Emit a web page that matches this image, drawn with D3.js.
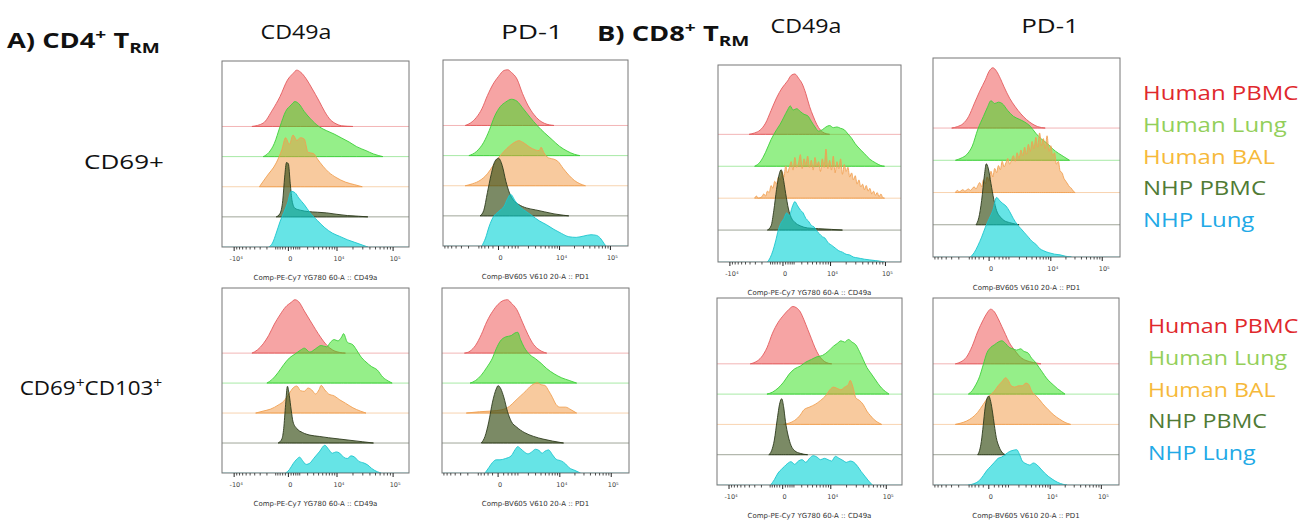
<!DOCTYPE html>
<html>
<head>
<meta charset="utf-8">
<script src="https://cdn.jsdelivr.net/npm/d3@7"></script>
<style>
  body { margin: 0; background: #fff; }
  svg { display: block; }
</style>
</head>
<body>
<script>
const W = 1303, H = 531;

// stacked rows, top to bottom
const populations = ["Human PBMC", "Human Lung", "Human BAL", "NHP PBMC", "NHP Lung"];

// histograms: [channel along the axis (0-100), % of mode]
const cd4Cd69Cd49a = [
  [[16,0],[22,5],[27,25],[31,45],[35,70],[38,80],[40,85],[42,82],[45,72],[48,58],[52,38],[55,22],[58,10],[61,4],[64,1],[70,0]],
  [[22,0],[25,6],[28,20],[31,45],[34,68],[37,78],[39,83],[41,80],[44,68],[47,58],[52,45],[56,39],[60,34],[64,28],[68,22],[72,15],[77,9],[81,4],[86,0]],
  [[20,0],[24,16],[29,36],[32,56],[34,74],[36,64],[38,78],[40,70],[42,74],[44,72],[46,52],[49,50],[51,42],[54,31],[57,22],[61,14],[66,7],[71,3],[75,0]],
  [[29,0],[31,5],[32.5,25],[33.5,60],[34.5,82],[35.5,80],[36.5,50],[37.5,24],[39,13],[42,10],[46,8],[51,7],[56,6],[61,4],[67,2],[73,1],[78,0]],
  [[25,0],[27,6],[29,21],[31,38],[33,52],[35,66],[37,84],[39,82],[41,74],[44,64],[47,52],[51,40],[55,29],[59,21],[63,16],[67,11],[71,7],[75,3],[78,0]]
];
const cd4Cd69Pd1 = [
  [[12,0],[15,4],[18,12],[21,25],[24,45],[27,62],[30,74],[33,83],[35,84],[37,80],[40,70],[43,48],[46,30],[49,17],[52,8],[55,3],[60,0]],
  [[14,0],[18,6],[22,20],[25,38],[28,60],[31,74],[34,81],[37,85],[40,82],[43,72],[47,58],[51,45],[55,34],[59,24],[63,14],[67,7],[71,2],[74,0]],
  [[12,0],[16,3],[20,8],[24,18],[27,30],[30,42],[33,52],[36,60],[39,66],[41,68],[44,64],[47,58],[50,54],[52,53],[53,58],[54.5,50],[57,42],[60,40],[62,37],[65,26],[68,16],[71,8],[74,3],[77,0]],
  [[20,0],[22,8],[24,35],[26,62],[28,82],[30,87],[32,76],[34,52],[36,34],[38,24],[41,17],[45,12],[50,9],[55,6],[60,3],[65,1],[68,0]],
  [[21,0],[23,12],[25,30],[27,43],[30,52],[33,60],[35,72],[36.5,78],[39,68],[42,58],[45,52],[48,46],[52,38],[56,32],[60,25],[64,19],[68,14],[72,13],[76,15],[80,17],[83,16],[85,12],[87,4],[88,0]]
];
const cd4Cd103Cd49a = [
  [[16,0],[19,5],[22,14],[25,27],[28,44],[31,58],[34,70],[37,77],[39,81],[41,78],[44,64],[47,50],[50,36],[53,23],[56,12],[59,5],[63,1],[66,0]],
  [[24,0],[27,6],[30,16],[33,28],[36,38],[39,44],[42,50],[44,53],[47,47],[50,52],[53,57],[56,55],[58,62],[60,66],[62,64],[64,70],[65,75],[67,62],[70,58],[72,50],[74,41],[77,32],[80,25],[83,20],[86,9],[89,3],[91,0]],
  [[18,0],[22,3],[26,6],[30,12],[33,18],[36,30],[38,38],[40,41],[42,34],[44,33],[46,38],[48,35],[50,29],[52,36],[53,42],[55,35],[57,29],[60,26],[63,20],[66,15],[70,8],[74,3],[77,0]],
  [[30,0],[32,6],[33,22],[34,58],[35,86],[36,72],[37,50],[38,32],[40,22],[43,16],[47,12],[52,10],[57,8],[63,6],[69,4],[75,2],[81,0]],
  [[34,0],[36,5],[38,14],[40,21],[41.5,24],[43,19],[45,13],[47,15],[49,22],[52,32],[55,42],[57,36],[59,30],[61,32],[63,30],[65,24],[67,22],[69,26],[71,24],[73,18],[76,15],[78,12],[80,7],[83,2],[85,0]]
];
const cd4Cd103Pd1 = [
  [[12,0],[15,3],[18,12],[21,28],[24,48],[27,63],[30,74],[33,80],[35,81],[37,76],[40,66],[43,47],[46,28],[49,13],[52,5],[56,0]],
  [[15,0],[18,4],[21,12],[24,24],[27,38],[29,52],[31,63],[34,70],[37,72],[39,76],[40.5,77],[42,66],[44,54],[47,43],[50,37],[53,30],[56,22],[60,14],[64,8],[68,4],[72,0]],
  [[13,0],[20,2],[26,3],[32,5],[36,10],[39,18],[42,26],[45,34],[47,40],[49,44],[51,46],[53,43],[55,42],[57,34],[59,24],[61,13],[63,9],[66,9],[69,5],[72,0]],
  [[21,0],[23,10],[25,32],[27,62],[29,82],[30,87],[31.5,82],[33,70],[35,48],[37,33],[40,24],[44,16],[49,10],[54,6],[59,3],[65,0]],
  [[23,0],[25,8],[27,16],[29,20],[31,20],[34,22],[37,26],[39,35],[40.5,40],[42,37],[44,32],[46,29],[48,32],[50,36],[52,34],[53.5,30],[55,33],[57,35],[59,28],[61,21],[64,18],[66,14],[68,8],[71,4],[74,0]]
];
const cd8Cd69Cd49a = [
  [[17,0],[20,2],[23,6],[26,16],[29,34],[32,52],[35,66],[38,76],[40,84],[42,86],[44,80],[46,72],[48,58],[50,40],[52,26],[54,14],[56,6],[58,2],[61,0]],
  [[20,0],[23,6],[26,20],[29,38],[32,52],[34,60],[36,70],[38,80],[39.5,86],[41,80],[43,82],[45,78],[47,74],[49,72],[51,64],[53,56],[55,50],[57,52],[59,56],[61,58],[63,55],[65,56],[67,54],[69,52],[71,46],[73,40],[75,32],[77,26],[80,18],[83,10],[86,5],[89,1],[91,0]],
  [[20,0],[21,3],[22,0],[24,2],[25,6],[26,3],[27,10],[28,8],[29,18],[30,14],[31,24],[32,20],[33,30],[34,26],[35,38],[36,30],[37,46],[38,36],[39,44],[40,52],[41,40],[42,58],[43,44],[44,50],[45,62],[46,42],[47,56],[48,48],[49,60],[50,44],[51,54],[52,40],[53,58],[54,46],[55,52],[56,38],[57,56],[58,44],[59,70],[60,42],[61,54],[62,40],[63,60],[64,36],[65,52],[66,42],[67,56],[68,34],[69,48],[70,38],[71,44],[72,30],[73,36],[74,26],[75,32],[76,20],[77,26],[78,16],[79,20],[80,12],[81,18],[82,10],[83,14],[84,6],[85,10],[86,4],[87,8],[88,2],[89,6],[90,1],[91,0]],
  [[27,0],[29,6],[30.5,28],[32,58],[33.5,80],[34.5,86],[35.5,76],[37,52],[38.5,30],[40,18],[42,11],[45,6],[49,3],[55,2],[62,1],[68,0]],
  [[27,0],[28.5,6],[30,16],[31.5,30],[33,46],[34.5,56],[36,62],[37.5,70],[39,66],[40.5,78],[42,86],[43.5,80],[45,74],[46.5,70],[48,62],[49.5,58],[51,52],[52.5,50],[54,44],[55.5,40],[57,36],[58.5,34],[60,28],[62,24],[64,20],[66,16],[68,14],[70,11],[72,10],[74,7],[76,6],[78,5],[80,4],[83,3],[86,2],[89,1],[91,0]]
];
const cd8Cd69Pd1 = [
  [[10,0],[13,2],[16,6],[19,16],[22,34],[25,52],[28,68],[30,80],[32,85],[34,80],[36,70],[38,58],[41,42],[44,30],[47,20],[50,12],[53,6],[56,2],[60,0]],
  [[12,0],[15,3],[18,8],[21,20],[24,44],[27,62],[29,74],[31,84],[33,80],[35,82],[37,80],[40,70],[43,62],[46,58],[49,54],[52,48],[55,38],[58,30],[61,24],[64,16],[67,10],[70,5],[73,0]],
  [[12,0],[13,3],[14,1],[16,4],[17,2],[19,5],[20,3],[22,8],[23,5],[24,10],[25,14],[26,8],[27,18],[28,12],[29,22],[30,16],[31,30],[32,22],[33,34],[34,28],[35,38],[36,32],[37,44],[38,36],[39,42],[40,48],[41,40],[42,46],[43,52],[44,44],[45,56],[46,48],[47,60],[48,52],[49,64],[50,54],[51,68],[52,58],[53,72],[54,62],[55,78],[56,64],[57,84],[58,66],[59,76],[60,62],[61,80],[62,58],[63,66],[64,52],[65,56],[66,40],[67,44],[68,30],[69,28],[70,20],[71,16],[72,12],[73,8],[74,6],[75,2],[76,0]],
  [[23,0],[24.5,10],[26,34],[27.5,70],[28.5,86],[29.5,80],[31,58],[32.5,36],[34,20],[36,11],[38,6],[41,3],[44,1],[46,0]],
  [[20,0],[22,6],[24,16],[26,28],[28,42],[30,54],[32,66],[34,84],[35.5,80],[37,76],[39,72],[41,64],[43,54],[45,46],[47,40],[49,34],[51,28],[53,22],[55,18],[57,12],[59,9],[62,6],[65,4],[68,3],[71,1],[74,0]]
];
const cd8Cd103Cd49a = [
  [[18,0],[21,3],[24,10],[27,24],[30,46],[33,62],[36,73],[39,82],[41,86],[43,84],[45,78],[47,66],[49,52],[51,38],[53,24],[55,13],[57,6],[59,2],[62,0]],
  [[27,0],[30,3],[33,9],[36,18],[39,30],[42,38],[45,42],[48,48],[51,52],[54,56],[57,58],[60,64],[63,72],[65,76],[67,80],[69,78],[71,82],[73,78],[75,74],[77,64],[79,52],[81,40],[83,32],[85,24],[87,16],[89,9],[91,4],[93,0]],
  [[36,0],[39,2],[42,6],[45,14],[47,22],[50,26],[53,30],[56,36],[59,44],[61,52],[63,56],[65,54],[67,52],[69,56],[71,60],[72,66],[73.5,56],[75,40],[77,36],[79,30],[81,20],[83,13],[85,7],[87,3],[89,0]],
  [[28,0],[29.5,6],[31,22],[32.5,52],[34,78],[35,84],[36,72],[37,50],[38.5,28],[40,14],[42,6],[45,2],[49,0]],
  [[29,0],[31,8],[33,18],[35,24],[36.5,28],[38,32],[40,35],[42,31],[44,36],[46,38],[48,34],[50,40],[52,44],[54,42],[56,38],[58,40],[60,38],[62,36],[64,43],[66,40],[68,37],[70,34],[72,36],[74,34],[76,28],[78,20],[80,13],[82,6],[84,0]]
];
const cd8Cd103Pd1 = [
  [[12,0],[15,3],[18,10],[21,26],[24,48],[27,66],[29,76],[31,82],[33,78],[35,68],[37,56],[39,44],[41,32],[44,20],[47,10],[50,5],[54,2],[58,0]],
  [[19,0],[21,5],[23,14],[25,26],[27,44],[29,62],[31,70],[33,74],[35,78],[37,80],[39,76],[41,70],[43,68],[45,66],[47,68],[49,64],[51,62],[53,54],[55,48],[57,40],[59,32],[61,24],[63,18],[65,13],[67,8],[69,4],[71,0]],
  [[12,0],[15,2],[18,5],[21,10],[24,18],[27,30],[30,42],[33,50],[35,58],[37,64],[39,70],[40.5,66],[42,58],[44,56],[46,58],[48,58],[50,62],[51.5,60],[53,50],[55,44],[57,38],[59,31],[62,22],[65,14],[68,8],[71,3],[74,0]],
  [[24,0],[25,6],[26,20],[27,44],[28,70],[29,84],[30,88],[31,80],[32,64],[33,44],[34,26],[35.5,12],[37,4],[39,0]],
  [[19,0],[22,2],[25,7],[27,14],[29,22],[31,28],[33,34],[35,40],[37,42],[39,46],[41,50],[43,52],[45,53],[46.5,46],[48,36],[50,32],[52,30],[54,33],[56,30],[58,24],[60,18],[62,13],[64,9],[67,4],[70,1],[72,0]]
];

// axis ticks (fluorescence values) and their labels
const cd49aTicks = [-1e4, 0, 1e4, 1e5];
const cd49aTickLabels = ["-10⁴", "0", "10⁴", "10⁵"];
const pd1Ticks = [0, 1e4, 1e5];
const pd1TickLabels = ["0", "10⁴", "10⁵"];
const minorTicks = [-9000,-8000,-7000,-6000,-5000,-4000,-3000,-2000,-1000,-800,-600,-400,-200,
  200,400,600,800,1000,2000,3000,4000,5000,6000,7000,8000,9000,
  20000,30000,40000,50000,60000,70000,80000,90000];

// channel positions of -1e4, 0 and 1e5 and the width constant of each marker's axis
const axes = {
  cd49a: { neg: 6.5, zero: 35.5, top: 91.5, k: 1830, ticks: cd49aTicks, labels: cd49aTickLabels,
           title: "Comp-PE-Cy7 YG780  60-A :: CD49a" },
  pd1:   { neg: null, zero: 30, top: 90.5, k: 730, ticks: pd1Ticks, labels: pd1TickLabels,
           title: "Comp-BV605  V610  20-A :: PD1" }
};

const fills = ["rgba(238,74,74,0.5)", "rgba(52,224,28,0.52)", "rgba(242,150,62,0.5)", "rgba(55,78,22,0.66)", "rgba(0,210,214,0.6)"];
const strokes = ["#e35b5e", "#3dcf3a", "#f0a052", "#2c3a1c", "#1cc5cd"];
const legendColors = ["#e0282c", "#93cf5a", "#f6b93a", "#507b35", "#21a9e6"];

const panels = [
  { data: cd4Cd69Cd49a,  axis: "cd49a", x: 222, y: 61,  w: 187, h: 186 },
  { data: cd4Cd69Pd1,    axis: "pd1",   x: 443, y: 60,  w: 185, h: 186 },
  { data: cd4Cd103Cd49a, axis: "cd49a", x: 222, y: 288, w: 187, h: 185 },
  { data: cd4Cd103Pd1,   axis: "pd1",   x: 442, y: 288, w: 187, h: 185 },
  { data: cd8Cd69Cd49a,  axis: "cd49a", x: 718, y: 65,  w: 183, h: 197 },
  { data: cd8Cd69Pd1,    axis: "pd1",   x: 933, y: 58,  w: 187, h: 199 },
  { data: cd8Cd103Cd49a, axis: "cd49a", x: 717, y: 298, w: 185, h: 187 },
  { data: cd8Cd103Pd1,   axis: "pd1",   x: 933, y: 298, w: 186, h: 187 }
];

const svg = d3.select("body").append("svg").attr("width", W).attr("height", H);
const font = "'Open Sans', 'Noto Sans', sans-serif";
const axisFont = "'DejaVu Sans', sans-serif";

panels.forEach((p, pi) => {
  const ax = axes[p.axis];
  const g = svg.append("g");
  const x = d3.scaleLinear().domain([0, 100]).range([p.x, p.x + p.w]);
  const xPos = d3.scaleSymlog().constant(ax.k).domain([0, 1e5]).range([x(ax.zero), x(ax.top)]);
  const xNeg = ax.neg == null ? xPos
    : d3.scaleSymlog().constant(ax.k).domain([0, -1e4]).range([x(ax.zero), x(ax.neg)]);
  const xv = v => (v < 0 ? xNeg(v) : xPos(v));
  const step = p.h * 0.162;
  const hy = d3.scaleLinear().domain([0, 100]).range([0, step * 2.2]);

  g.append("clipPath").attr("id", "clip" + pi)
    .append("rect").attr("x", p.x).attr("y", p.y).attr("width", p.w).attr("height", p.h);
  const plot = g.append("g").attr("clip-path", `url(#clip${pi})`);

  p.data.forEach((series, i) => {
    const base = p.y + p.h - (4 - i) * step;
    plot.append("line")
      .attr("x1", p.x).attr("x2", p.x + p.w).attr("y1", base).attr("y2", base)
      .attr("stroke", strokes[i]).attr("stroke-opacity", 0.45).attr("stroke-width", 1);
    const area = d3.area()
      .x(d => x(d[0]))
      .y0(base)
      .y1(d => base - hy(d[1]))
      .curve(d3.curveMonotoneX);
    plot.append("path").datum(series)
      .attr("d", area)
      .attr("fill", fills[i])
      .attr("stroke", strokes[i])
      .attr("stroke-width", 0.9);
  });

  g.append("rect").attr("x", p.x).attr("y", p.y).attr("width", p.w).attr("height", p.h)
    .attr("fill", "none").attr("stroke", "#777").attr("stroke-width", 1);

  const bottom = p.y + p.h;
  const inside = v => xv(v) >= p.x && xv(v) <= p.x + p.w;
  g.selectAll(null).data(minorTicks.filter(inside)).enter().append("line")
    .attr("x1", d => xv(d)).attr("x2", d => xv(d))
    .attr("y1", bottom).attr("y2", bottom + 2.5)
    .attr("stroke", "#222").attr("stroke-width", 0.8);
  g.selectAll(null).data(ax.ticks).enter().append("line")
    .attr("x1", d => xv(d)).attr("x2", d => xv(d))
    .attr("y1", bottom).attr("y2", bottom + 4)
    .attr("stroke", "#222").attr("stroke-width", 1);
  g.selectAll(null).data(ax.ticks).enter().append("text")
    .attr("x", d => xv(d) + 2).attr("y", bottom + 14)
    .attr("text-anchor", "middle")
    .attr("font-family", axisFont).attr("font-size", 6.5).attr("fill", "#444")
    .text((d, i) => ax.labels[i]);
  g.append("text")
    .attr("x", p.x + p.w / 2).attr("y", bottom + 33)
    .attr("text-anchor", "middle")
    .attr("font-family", axisFont).attr("font-size", 7).attr("fill", "#333")
    .text(ax.title);
});

// headings, row labels, legends
function richText(parent, t) {
  const g = parent.append("g").attr("transform", `translate(${t.x},${t.y}) scale(${t.sx},1)`);
  const txt = g.append("text")
    .attr("text-anchor", t.anchor || "start")
    .attr("font-family", font)
    .attr("font-weight", t.bold ? 700 : 400)
    .attr("font-size", t.size)
    .attr("fill", t.color || "#111");
  let shift = 0;
  t.parts.forEach(([s, kind]) => {
    const target = kind === "sup" ? -0.36 * t.size : kind === "sub" ? 0.22 * t.size : 0;
    txt.append("tspan").attr("dy", target - shift)
      .attr("font-size", kind ? t.size * 0.7 : t.size).text(s);
    shift = target;
  });
}

const texts = [
  { x: 7, y: 48, size: 21, sx: 1.3, bold: true, parts: [["A) CD4"], ["+", "sup"], [" T"], ["RM", "sub"]] },
  { x: 296, y: 39, size: 20, sx: 1.16, anchor: "middle", parts: [["CD49a"]] },
  { x: 532, y: 39, size: 20, sx: 1.4, anchor: "middle", parts: [["PD-1"]] },
  { x: 597, y: 41, size: 21, sx: 1.3, bold: true, parts: [["B) CD8"], ["+", "sup"], [" T"], ["RM", "sub"]] },
  { x: 806, y: 33, size: 20, sx: 1.16, anchor: "middle", parts: [["CD49a"]] },
  { x: 1050, y: 33, size: 20, sx: 1.3, anchor: "middle", parts: [["PD-1"]] },
  { x: 124, y: 169, size: 20, sx: 1.3, anchor: "middle", parts: [["CD69+"]] },
  { x: 91, y: 395, size: 20, sx: 1.12, anchor: "middle", parts: [["CD69"], ["+", "sup"], ["CD103"], ["+", "sup"]] }
];
texts.forEach(t => richText(svg, t));

const legendTops = [{ x: 1143, y: 100, sx: 1.2 }, { x: 1148, y: 333, sx: 1.16 }];
legendTops.forEach(l => {
  populations.forEach((name, i) => {
    richText(svg, { x: l.x, y: l.y + i * 31.8, size: 20, sx: l.sx, color: legendColors[i], parts: [[name]] });
  });
});
</script>
</body>
</html>
